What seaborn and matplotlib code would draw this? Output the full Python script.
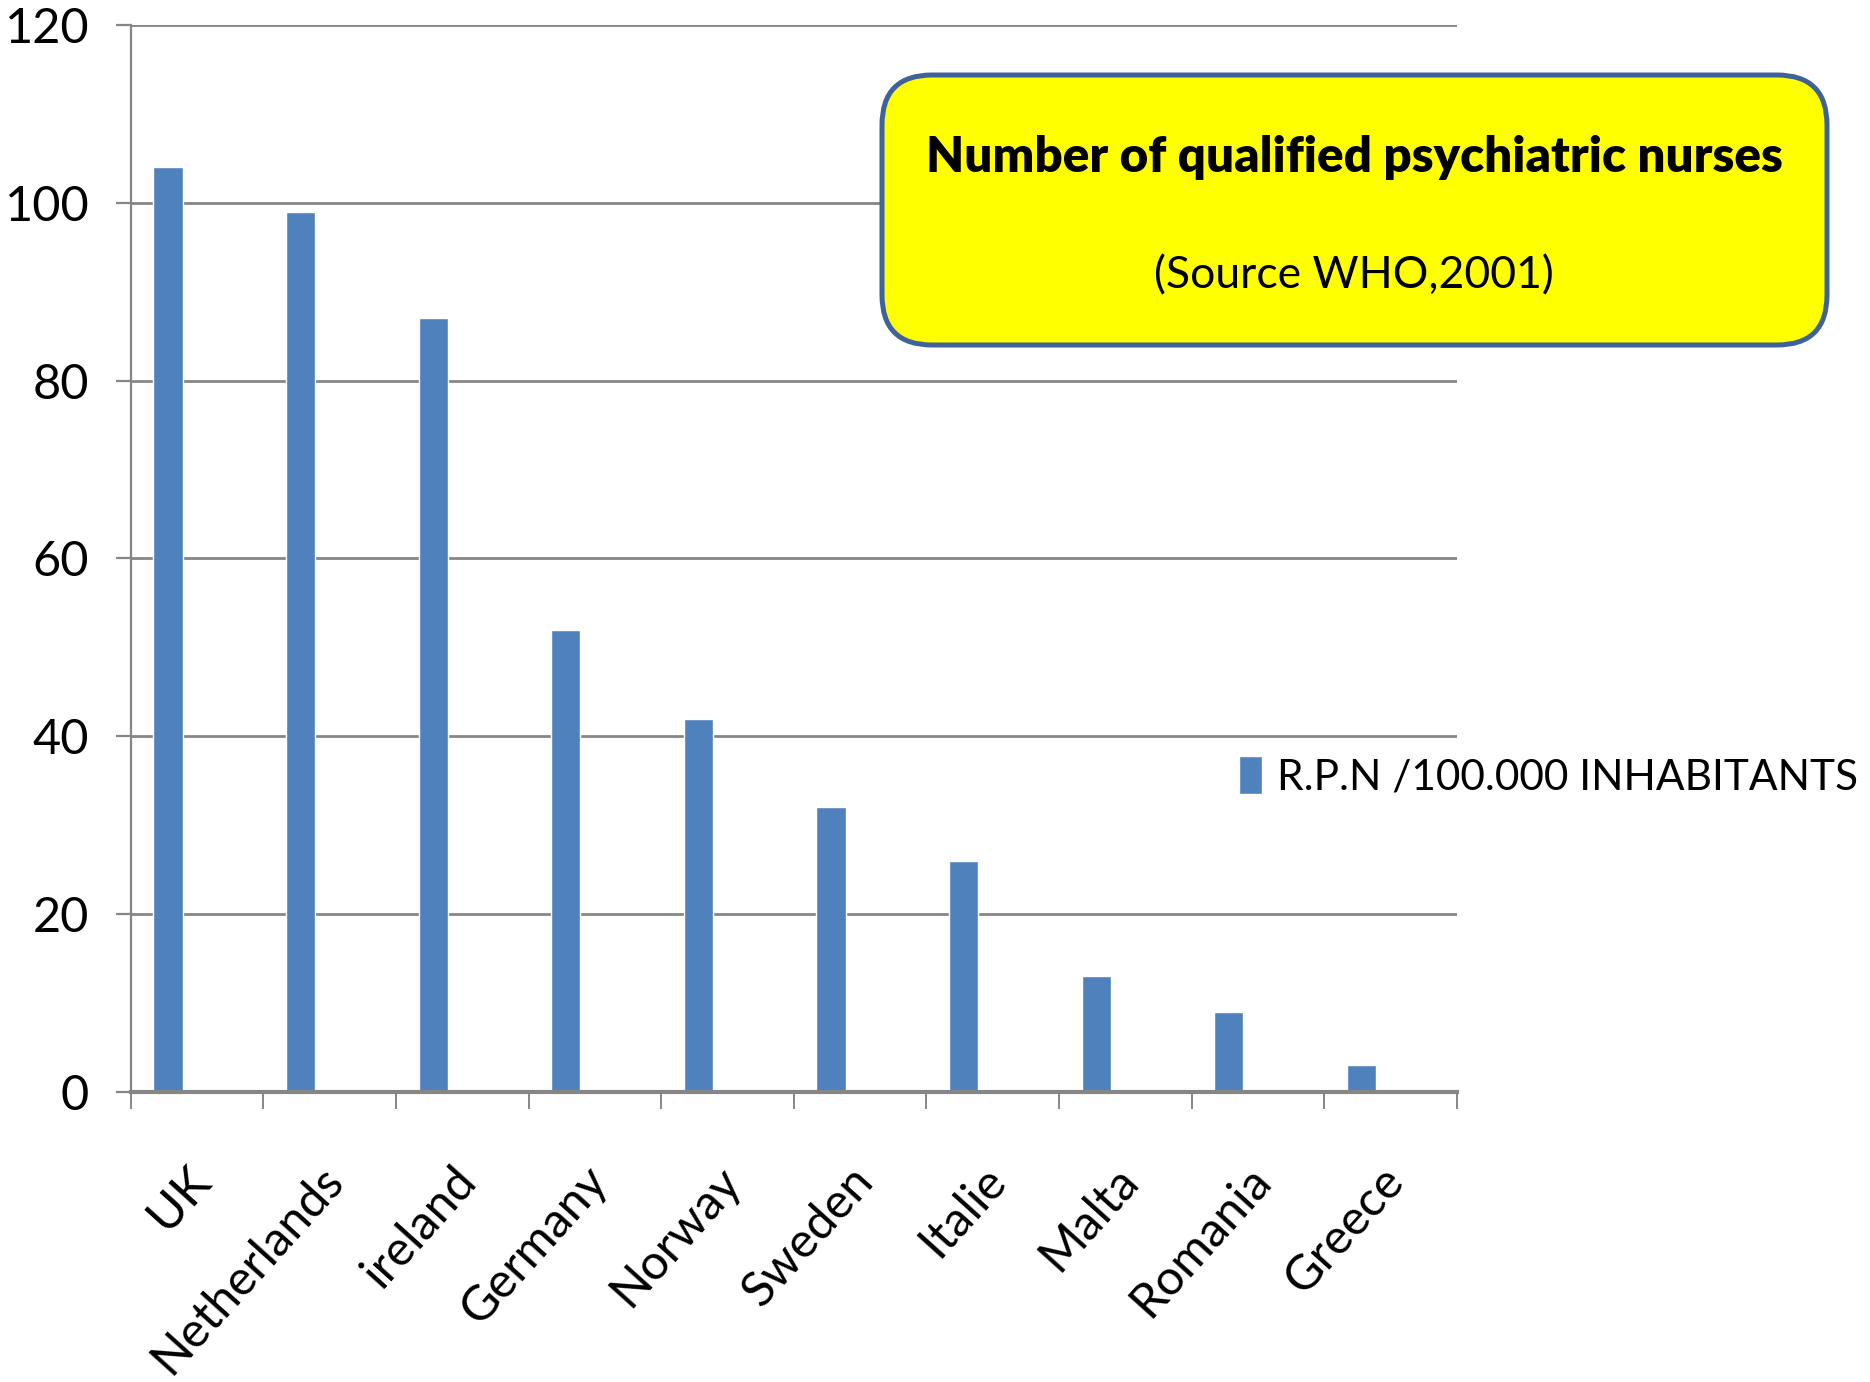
import matplotlib
matplotlib.use("Agg")
import matplotlib.pyplot as plt
import matplotlib.transforms as mtransforms
from matplotlib.patches import FancyBboxPatch
import seaborn as sns
import pandas as pd

countries = ["UK", "Netherlands", "ireland", "Germany", "Norway", "Sweden",
             "Italie", "Malta", "Romania", "Greece"]
values = [104, 99, 87, 52, 42, 32, 26, 13, 9, 3]
series_label = "R.P.N /100.000 INHABITANTS"
title_text = "Number of qualified psychiatric nurses"
source_text = "(Source WHO,2001)"
y_ticks = [0, 20, 40, 60, 80, 100, 120]

sns.set_theme(style="white")
plt.rcParams['font.family'] = ['Lato', 'DejaVu Sans']
plt.rcParams['text.color'] = 'black'
plt.rcParams['xtick.color'] = 'black'
plt.rcParams['ytick.color'] = 'black'

BAR = "#4F81BD"
GRID = "#868686"

fig = plt.figure(figsize=(18.70, 13.82), dpi=100)
ax = fig.add_axes([0.070, 0.2098, 0.709, 0.7722])

df = pd.DataFrame({"country": countries, "value": values})
sns.barplot(data=df, x="country", y="value", color=BAR, width=0.22,
            saturation=1, ax=ax, label=series_label)
# Excel-style layout: the bar sits left of the category centre
for p in ax.patches:
    p.set_x(p.get_x() - 0.22)

ax.set_ylim(0, 120)
ax.set_xlim(-0.5, len(countries) - 0.5)
ax.set_yticks(y_ticks)
ax.set_xlabel("")
ax.set_ylabel("")

for v in y_ticks[1:]:
    ax.axhline(v, color=GRID, lw=2.0, zorder=0)

for s in ["top", "right"]:
    ax.spines[s].set_visible(False)
ax.spines["left"].set_color(GRID)
ax.spines["left"].set_linewidth(1.6)
ax.spines["bottom"].set_color(GRID)
ax.spines["bottom"].set_linewidth(3.0)

ax.tick_params(axis="y", which="major", length=11, width=1.6, color=GRID,
               direction="out", left=True, labelsize=35, pad=19,
               labelcolor="black")
ax.set_xticks([i - 0.5 for i in range(len(countries) + 1)], minor=True)
ax.tick_params(axis="x", which="minor", length=12, width=1.4, color=GRID,
               direction="out", bottom=True)
ax.tick_params(axis="x", which="major", length=0, labelsize=35, pad=58,
               labelcolor="black")
ax.set_xticks(range(len(countries)))
ax.set_xticklabels(countries, rotation=48, ha="right", va="center",
                   rotation_mode="anchor")
offset = mtransforms.ScaledTranslation(0.05, 0, fig.dpi_scale_trans)
for lbl in ax.get_xticklabels():
    lbl.set_transform(lbl.get_transform() + offset)

# Legend
handles, labels = ax.get_legend_handles_labels()
leg = fig.legend(handles, labels, loc="center left",
                 bbox_to_anchor=(1222 / 1870, 1 - 776 / 1382),
                 frameon=False, fontsize=30.5, handlelength=0.55,
                 handleheight=1.0, handletextpad=0.35, borderaxespad=0)
if ax.get_legend() is not None:
    ax.get_legend().remove()

# Yellow title box
box = FancyBboxPatch((8.82, 10.37), 9.45, 2.70,
                     boxstyle="round,pad=0,rounding_size=0.5",
                     transform=fig.dpi_scale_trans,
                     facecolor="#FFFF00", edgecolor="#3E629A", linewidth=3.6,
                     zorder=5)
fig.add_artist(box)
fig.text(1354 / 1870, 1 - 157 / 1382, title_text, ha="center", va="center",
         fontsize=35.5, fontweight="heavy", color="black", zorder=6)
fig.text(1354 / 1870, 1 - 276 / 1382, source_text, ha="center", va="center",
         fontsize=32, color="black", zorder=6)

fig.savefig("out.png", dpi=100)
